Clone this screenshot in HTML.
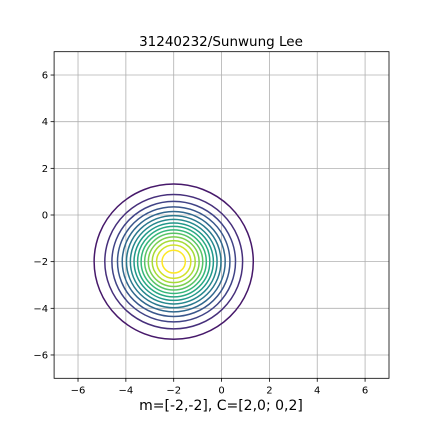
<!DOCTYPE html>
<html><head><meta charset="utf-8"><style>
body{margin:0;background:#fff;}
svg text{font-family:"DejaVu Sans","Liberation Sans",sans-serif;}
</style></head><body>
<svg id="chart" width="432" height="432" xmlns="http://www.w3.org/2000/svg">
<rect width="432" height="432" fill="#fff"/>
<g id="grid"></g>
<g id="contours"></g>
<rect x="54.1" y="51.7" width="334.9" height="326.6" fill="none" stroke="#000" stroke-width="0.8"/>
<g id="ticks"></g>
<text x="221" y="46" font-size="13.5" text-anchor="middle">31240232/Sunwung Lee</text>
<text x="221" y="410" font-size="14" text-anchor="middle">m=[-2,-2], C=[2,0; 0,2]</text>
</svg>
<script>
const mean = [-2, -2];
const covDiag = [2, 2];
const levels = [0.005,0.01,0.015,0.02,0.025,0.03,0.035,0.04,0.045,0.05,0.055,0.06,0.065,0.07,0.075];
const xTicks = [-6,-4,-2,0,2,4,6];
const yTicks = [-6,-4,-2,0,2,4,6];
const NS='http://www.w3.org/2000/svg';
const x0=54.1,x1=389,y0=378.3,y1=51.7;
const sx=v=>x0+(v+7)/14*(x1-x0);
const sy=v=>y0-(v+7)/14*(y0-y1);
const vir=[[68,1,84],[72,40,120],[62,74,137],[49,104,142],[38,130,142],[31,158,137],[53,183,121],[109,205,89],[180,222,44],[253,231,37]];
function viridis(t){t=Math.max(0,Math.min(1,t));const p=t*(vir.length-1);const i=Math.min(vir.length-2,Math.floor(p));const f=p-i;
return 'rgb('+vir[i].map((c,k)=>Math.round(c+(vir[i+1][k]-c)*f)).join(',')+')';}
const grid=document.getElementById('grid'),ticks=document.getElementById('ticks'),cg=document.getElementById('contours');
function mk(tag,attrs,parent){const e=document.createElementNS(NS,tag);for(const k in attrs)e.setAttribute(k,attrs[k]);parent.appendChild(e);return e;}
xTicks.forEach(v=>{
  const gl=mk('line',{x1:sx(v),x2:sx(v),y1:y1,y2:y0,stroke:'#b0b0b0','stroke-width':0.8},grid);
  
  
  mk('line',{x1:sx(v),x2:sx(v),y1:y0,y2:y0+3.5,stroke:'#000','stroke-width':0.8},ticks);
  const t=mk('text',{x:sx(v),y:y0+15,'font-size':10,'text-anchor':'middle'},ticks);
  t.textContent=v<0?'\u2212'+(-v):String(v);
  
  
});
yTicks.forEach(v=>{
  const gl=mk('line',{x1:x0,x2:x1,y1:sy(v),y2:sy(v),stroke:'#b0b0b0','stroke-width':0.8},grid);
  
  
  mk('line',{x1:x0-3.5,x2:x0,y1:sy(v),y2:sy(v),stroke:'#000','stroke-width':0.8},ticks);
  const t=mk('text',{x:x0-6,y:sy(v)+3.5,'font-size':10,'text-anchor':'end'},ticks);
  t.textContent=v<0?'\u2212'+(-v):String(v);
  
  
});
const peak=1/(2*Math.PI*Math.sqrt(covDiag[0]*covDiag[1]));
const vmax=levels[levels.length-1];
levels.forEach(L=>{
  if(L>=peak)return;
  const q=2*Math.log(peak/L);
  const rx=Math.sqrt(q*covDiag[0]),ry=Math.sqrt(q*covDiag[1]);
  const e=mk('ellipse',{cx:sx(mean[0]),cy:sy(mean[1]),rx:sx(mean[0]+rx)-sx(mean[0]),ry:sy(mean[1])-sy(mean[1]+ry),fill:'none',stroke:viridis(L/vmax),'stroke-width':1.5},cg);
  
  
});
</script>
</body></html>
